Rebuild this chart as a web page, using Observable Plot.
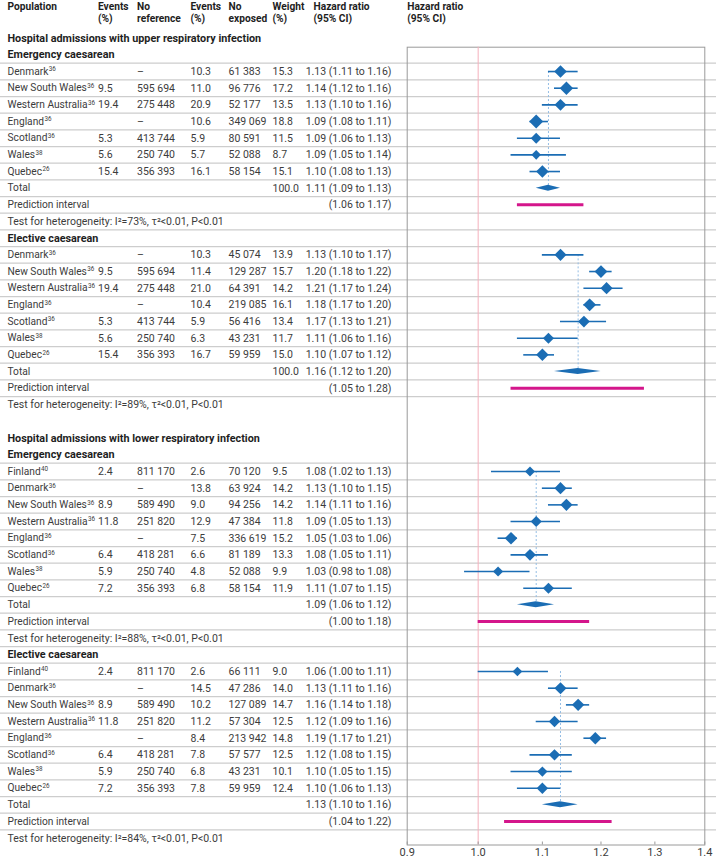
<!DOCTYPE html>
<html><head><meta charset="utf-8">
<script src="https://cdn.jsdelivr.net/npm/d3@7"></script>
<script src="https://cdn.jsdelivr.net/npm/@observablehq/plot@0.6"></script>
<style>
html,body{margin:0;padding:0;background:#fff;}
#chart{width:716px;height:860px;overflow:hidden;}
</style></head><body><div id="chart"></div>
<script>
// ---------- DATA ----------
const outcomes = ["Hospital admissions with upper respiratory infection", "Hospital admissions with lower respiratory infection"];
const caesareanTypes = ["Emergency caesarean", "Elective caesarean"];
const headerTop = ["Population", "Events", "No", "Events", "No", "Weight", "Hazard ratio", "Hazard ratio"];
const headerBottom = ["", "(%)", "reference", "(%)", "exposed", "(%)", "(95% CI)", "(95% CI)"];
const xTicks = [0.9, 1.0, 1.1, 1.2, 1.3, 1.4];

const popsUpper = ["Denmark", "New South Wales", "Western Australia", "England", "Scotland", "Wales", "Quebec"];
const refsUpper = ["36", "36", "36", "36", "36", "38", "26"];
const popsLower = ["Finland", "Denmark", "New South Wales", "Western Australia", "England", "Scotland", "Wales", "Quebec"];
const refsLower = ["40", "36", "36", "36", "36", "36", "38", "26"];

// Upper respiratory infection, emergency caesarean
const upEmEventsRef = [null, 9.5, 19.4, null, 5.3, 5.6, 15.4];
const upEmNRef = [null, 595694, 275448, null, 413744, 250740, 356393];
const upEmEventsExp = [10.3, 11.0, 20.9, 10.6, 5.9, 5.7, 16.1];
const upEmNExp = [61383, 96776, 52177, 349069, 80591, 52088, 58154];
const upEmWeight = [15.3, 17.2, 13.5, 18.8, 11.5, 8.7, 15.1];
const upEmHR = [1.13, 1.14, 1.13, 1.09, 1.09, 1.09, 1.10];
const upEmLo = [1.11, 1.12, 1.10, 1.08, 1.06, 1.05, 1.08];
const upEmHi = [1.16, 1.16, 1.16, 1.11, 1.13, 1.14, 1.13];
const upEmTotal = [1.11, 1.09, 1.13];
const upEmTotalWeight = 100.0;
const upEmPI = [1.06, 1.17];
const upEmHet = "I²=73%, τ²<0.01, P<0.01";

// Upper respiratory infection, elective caesarean
const upElEventsRef = [null, 9.5, 19.4, null, 5.3, 5.6, 15.4];
const upElNRef = [null, 595694, 275448, null, 413744, 250740, 356393];
const upElEventsExp = [10.3, 11.4, 21.0, 10.4, 5.9, 6.3, 16.7];
const upElNExp = [45074, 129287, 64391, 219085, 56416, 43231, 59959];
const upElWeight = [13.9, 15.7, 14.2, 16.1, 13.4, 11.7, 15.0];
const upElHR = [1.13, 1.20, 1.21, 1.18, 1.17, 1.11, 1.10];
const upElLo = [1.10, 1.18, 1.17, 1.17, 1.13, 1.06, 1.07];
const upElHi = [1.17, 1.22, 1.24, 1.20, 1.21, 1.16, 1.12];
const upElTotal = [1.16, 1.12, 1.20];
const upElTotalWeight = 100.0;
const upElPI = [1.05, 1.28];
const upElHet = "I²=89%, τ²<0.01, P<0.01";

// Lower respiratory infection, emergency caesarean
const loEmEventsRef = [2.4, null, 8.9, 11.8, null, 6.4, 5.9, 7.2];
const loEmNRef = [811170, null, 589490, 251820, null, 418281, 250740, 356393];
const loEmEventsExp = [2.6, 13.8, 9.0, 12.9, 7.5, 6.6, 4.8, 6.8];
const loEmNExp = [70120, 63924, 94256, 47384, 336619, 81189, 52088, 58154];
const loEmWeight = [9.5, 14.2, 14.2, 11.8, 15.2, 13.3, 9.9, 11.9];
const loEmHR = [1.08, 1.13, 1.14, 1.09, 1.05, 1.08, 1.03, 1.11];
const loEmLo = [1.02, 1.10, 1.11, 1.05, 1.03, 1.05, 0.98, 1.07];
const loEmHi = [1.13, 1.15, 1.16, 1.13, 1.06, 1.11, 1.08, 1.15];
const loEmTotal = [1.09, 1.06, 1.12];
const loEmTotalWeight = null;
const loEmPI = [1.00, 1.18];
const loEmHet = "I²=88%, τ²<0.01, P<0.01";

// Lower respiratory infection, elective caesarean
const loElEventsRef = [2.4, null, 8.9, 11.8, null, 6.4, 5.9, 7.2];
const loElNRef = [811170, null, 589490, 251820, null, 418281, 250740, 356393];
const loElEventsExp = [2.6, 14.5, 10.2, 11.2, 8.4, 7.8, 6.8, 7.8];
const loElNExp = [66111, 47286, 127089, 57304, 213942, 57577, 43231, 59959];
const loElWeight = [9.0, 14.0, 14.7, 12.5, 14.8, 12.5, 10.1, 12.4];
const loElHR = [1.06, 1.13, 1.16, 1.12, 1.19, 1.12, 1.10, 1.10];
const loElLo = [1.00, 1.11, 1.14, 1.09, 1.17, 1.08, 1.05, 1.06];
const loElHi = [1.11, 1.16, 1.18, 1.16, 1.21, 1.15, 1.15, 1.13];
const loElTotal = [1.13, 1.10, 1.16];
const loElTotalWeight = null;
const loElPI = [1.04, 1.22];
const loElHet = "I²=84%, τ²<0.01, P<0.01";

// ---------- BUILD TABLE ----------
const groups = [
  {outcome: outcomes[0], type: caesareanTypes[0], pops: popsUpper, refs: refsUpper, evRef: upEmEventsRef, nRef: upEmNRef, evExp: upEmEventsExp, nExp: upEmNExp, w: upEmWeight, hr: upEmHR, lo: upEmLo, hi: upEmHi, total: upEmTotal, tw: upEmTotalWeight, pi: upEmPI, het: upEmHet},
  {outcome: null, type: caesareanTypes[1], pops: popsUpper, refs: refsUpper, evRef: upElEventsRef, nRef: upElNRef, evExp: upElEventsExp, nExp: upElNExp, w: upElWeight, hr: upElHR, lo: upElLo, hi: upElHi, total: upElTotal, tw: upElTotalWeight, pi: upElPI, het: upElHet},
  {outcome: outcomes[1], type: caesareanTypes[0], pops: popsLower, refs: refsLower, evRef: loEmEventsRef, nRef: loEmNRef, evExp: loEmEventsExp, nExp: loEmNExp, w: loEmWeight, hr: loEmHR, lo: loEmLo, hi: loEmHi, total: loEmTotal, tw: loEmTotalWeight, pi: loEmPI, het: loEmHet},
  {outcome: null, type: caesareanTypes[1], pops: popsLower, refs: refsLower, evRef: loElEventsRef, nRef: loElNRef, evExp: loElEventsExp, nExp: loElNExp, w: loElWeight, hr: loElHR, lo: loElLo, hi: loElHi, total: loElTotal, tw: loElTotalWeight, pi: loElPI, het: loElHet}
];

const fmtN = d3.formatLocale({decimal: ".", thousands: " ", grouping: [3], currency: ["", ""]}).format(",d");
const f1 = d3.format(".1f"), f2 = d3.format(".2f");
const ciText = (h, l, u) => `${f2(h)} (${f2(l)} to ${f2(u)})`;

const rows = [], studies = [], totals = [], pis = [], diamondPts = [], sepLines = [];
let i = 0;
groups.forEach((g, gi) => {
  if (g.outcome) { if (gi > 0) i++; rows.push({i: i++, kind: "heading", pop: g.outcome}); }
  if (rows.length && rows[rows.length - 1].kind === "test") sepLines.push(i - 0.5);
  rows.push({i: i++, kind: "heading", pop: g.type});
  const first = i;
  g.pops.forEach((p, k) => {
    sepLines.push(i - 0.5);
    const r = {i: i++, kind: "study", pop: p, ref: g.refs[k],
      evRef: g.evRef[k] == null ? null : f1(g.evRef[k]),
      nRef: g.nRef[k] == null ? "–" : fmtN(g.nRef[k]),
      evExp: f1(g.evExp[k]), nExp: fmtN(g.nExp[k]), weight: f1(g.w[k]),
      hrText: ciText(g.hr[k], g.lo[k], g.hi[k]), hr: g.hr[k], lo: g.lo[k], hi: g.hi[k], wv: g.w[k]};
    rows.push(r); studies.push(r);
  });
  sepLines.push(i - 0.5);
  const t = {i: i++, kind: "total", pop: "Total", weight: g.tw == null ? null : f1(g.tw), hrText: ciText(...g.total), hr: g.total[0], lo: g.total[1], hi: g.total[2], first};
  rows.push(t); totals.push(t);
  diamondPts.push({g: gi, y: t.i - 0.18, x1: t.hr, x2: t.hr}, {g: gi, y: t.i, x1: t.lo, x2: t.hi}, {g: gi, y: t.i + 0.18, x1: t.hr, x2: t.hr});
  sepLines.push(i - 0.5);
  const p = {i: i++, kind: "pi", pop: "Prediction interval", hrText: `(${f2(g.pi[0])} to ${f2(g.pi[1])})`, lo: g.pi[0], hi: g.pi[1]};
  rows.push(p); pis.push(p);
  sepLines.push(i - 0.5);
  rows.push({i: i++, kind: "test", pop: "Test for heterogeneity: " + g.het});
});

const headers = headerTop.map((t, k) => ({col: k, label: headerBottom[k] ? t + "\n" + headerBottom[k] : t}));

// ---------- LAYOUT / STYLE ----------
const W = 716, H = 860;
const plotLeft = 406.7, plotRight = 704.3, plotTop = 46.7, plotBottom = 844.5;
const rowTop = 37.7, rowBottom = 837.7;
const headerRow = -2.2;
const colX = [7, 97.5, 136.5, 190, 228, 272, 313, 406.7];
const hrRight = 391;
const blue = "#1b6db4", magenta = "#d4168b", bodyColor = "#3c3c3c", headColor = "#1e1e1e";
const font = "Roboto", fs = 10.5, popFs = 10.2, headFs = 10.2;

const textCols = [
  {key: "evRef", dx: colX[1]}, {key: "nRef", dx: colX[2]}, {key: "evExp", dx: colX[3]},
  {key: "nExp", dx: colX[4]}, {key: "weight", dx: colX[5]}
];

const popRows = rows.filter(r => r.kind !== "heading" && r.kind !== "test");
const marks = [
  Plot.ruleY(sepLines, {y: d => d, stroke: "#cdcdcd", strokeWidth: 1.3}),
  Plot.frame({insetLeft: plotLeft, insetRight: W - plotRight, stroke: "#9a9a9a"}),
  Plot.ruleX([1], {stroke: "#f5b1bd"}),
  Plot.ruleX(totals, {x: "hr", y1: "first", y2: "i", stroke: "#93bde4", strokeDasharray: "2,2"}),
  Plot.ruleY(studies, {y: "i", x1: "lo", x2: "hi", stroke: blue, strokeWidth: 1.6}),
  Plot.dot(studies, {x: "hr", y: "i", r: "wv", symbol: "diamond2", fill: blue}),
  Plot.areaX(diamondPts, {y: "y", x1: "x1", x2: "x2", z: "g", fill: blue, curve: "linear"}),
  Plot.ruleY(pis, {y: "i", x1: "lo", x2: "hi", stroke: magenta, strokeWidth: 3}),
  Plot.axisX({ticks: xTicks, tickFormat: d3.format(".1f"), tickSize: -3, tickPadding: 6, label: null, stroke: "#9a9a9a", fill: bodyColor, fontSize: 11}),
  // column headers (two lines each)
  ...headers.map(h => Plot.text([h], {y: () => headerRow, text: "label", frameAnchor: "left", dx: colX[h.col], textAnchor: "start", lineAnchor: "top", lineHeight: 1.2, fill: headColor, fontWeight: "bold", fontSize: headFs})),
  // population / labels
  Plot.text(rows.filter(r => r.kind === "heading"), {y: "i", text: "pop", frameAnchor: "left", dx: colX[0], textAnchor: "start", fill: headColor, fontWeight: "bold", fontSize: 10.8}),
  Plot.text(rows.filter(r => r.kind === "test"), {y: "i", text: "pop", frameAnchor: "left", dx: colX[0], textAnchor: "start", fill: bodyColor, fontSize: fs}),
  Plot.text(popRows, {y: "i", text: "pop", frameAnchor: "left", dx: colX[0], textAnchor: "start", fill: bodyColor, fontSize: popFs, className: "pop"}),
  ...textCols.map(c => Plot.text(rows.filter(r => r[c.key] != null), {y: "i", text: c.key, frameAnchor: "left", dx: c.dx, textAnchor: "start", fill: bodyColor, fontSize: fs})),
  Plot.text(rows.filter(r => r.hrText != null), {y: "i", text: "hrText", frameAnchor: "left", dx: hrRight, textAnchor: "end", fill: bodyColor, fontSize: fs})
];

const chart = Plot.plot({
  width: W, height: H,
  marginLeft: 0, marginRight: 0, marginTop: plotTop, marginBottom: H - plotBottom,
  style: {fontFamily: font, fontSize: fs + "px", background: "#fff", color: bodyColor},
  x: {type: "log", domain: [0.9, 1.4], range: [plotLeft, plotRight]},
  y: {domain: [0, 48], range: [rowTop, rowBottom], axis: null},
  r: {type: "sqrt", domain: [0, 20], range: [0, 6.5]},
  marks
});

// add reference numbers as real superscripts after population names
chart.querySelectorAll("g.pop text").forEach((el, k) => {
  const r = popRows[k];
  if (r && r.ref) {
    const ts = document.createElementNS("http://www.w3.org/2000/svg", "tspan");
    ts.setAttribute("font-size", "6.3");
    ts.setAttribute("dy", "-3.6");
    ts.setAttribute("dx", "0.4");
    ts.textContent = r.ref;
    el.appendChild(ts);
  }
});
document.getElementById("chart").appendChild(chart);
</script></body></html>
